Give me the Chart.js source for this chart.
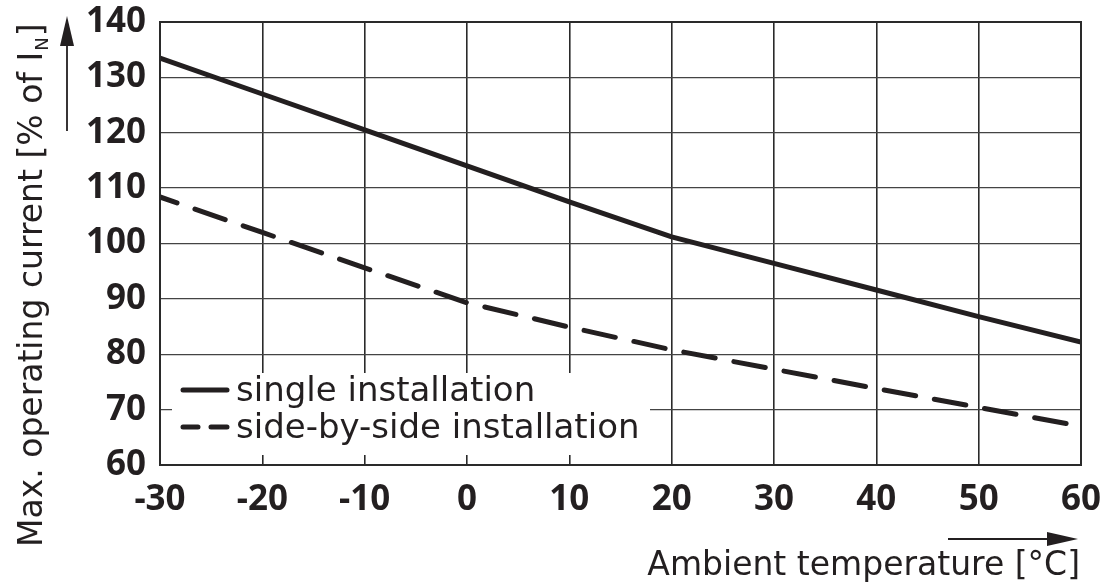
<!DOCTYPE html>
<html>
<head>
<meta charset="utf-8">
<script src="https://cdn.jsdelivr.net/npm/chart.js@4.4.1/dist/chart.umd.min.js"></script>
<style>
  html, body { margin: 0; padding: 0; background: #fff; }
  #wrap { width: 1102px; height: 588px; position: relative; }
</style>
</head>
<body>
<div id="wrap"><canvas id="c" width="1102" height="588"></canvas></div>
<script>
const temperatures = [-30, -20, -10, 0, 10, 20, 30, 40, 50, 60];
const singleInstallation = [133.5, 127, 120.5, 114, 107.5, 101.2, 96.4, 91.6, 86.8, 82.2];
const sideBySideInstallation = [108.4, 102, 95.6, 89.3, 84.9, 80.8, 77.3, 73.8, 70.4, 67];
const xTicks = [-30, -20, -10, 0, 10, 20, 30, 40, 50, 60];
const yTicks = [60, 70, 80, 90, 100, 110, 120, 130, 140];
const seriesLabels = ['single installation', 'side-by-side installation'];
const xTitle = 'Ambient temperature [°C]';
const yTitleMain = 'Max. operating current [% of I';
const yTitleSub = 'N';
const yTitleEnd = ']';

const INK = '#231f20';
const FONT = '"DejaVu Sans", "Noto Sans", sans-serif';
const TICKFONT = '"Noto Sans", "DejaVu Sans", sans-serif';

const decorPlugin = {
  id: 'decor',
  beforeDatasetsDraw(chart) {
    const ctx = chart.ctx;
    const a = chart.chartArea;
    ctx.save();
    ctx.fillStyle = '#fff';
    ctx.fillRect(a.left + 12, 373, 478, 82);
    ctx.restore();
  },
  afterDraw(chart) {
    const ctx = chart.ctx;
    ctx.save();
    ctx.fillStyle = INK;
    ctx.strokeStyle = INK;
    // legend
    ctx.lineWidth = 5;
    ctx.lineCap = 'round';
    ctx.beginPath();
    ctx.moveTo(183, 390); ctx.lineTo(227, 390);
    ctx.stroke();
    ctx.beginPath();
    ctx.moveTo(183, 427); ctx.lineTo(198, 427);
    ctx.moveTo(211, 427); ctx.lineTo(227, 427);
    ctx.stroke();
    ctx.font = '34px ' + FONT;
    ctx.textAlign = 'left';
    ctx.textBaseline = 'alphabetic';
    ctx.fillText(seriesLabels[0], 236, 401);
    ctx.fillText(seriesLabels[1], 236, 438);

    // x title
    ctx.font = '33px ' + FONT;
    ctx.textAlign = 'right';
    ctx.fillText(xTitle, 1080, 575);
    // x arrow
    ctx.lineWidth = 1.8;
    ctx.lineCap = 'butt';
    ctx.beginPath();
    ctx.moveTo(948, 539); ctx.lineTo(1050, 539);
    ctx.stroke();
    ctx.beginPath();
    ctx.moveTo(1078, 539); ctx.lineTo(1047, 532); ctx.lineTo(1047, 546); ctx.closePath();
    ctx.fill();

    // y title (rotated)
    ctx.save();
    ctx.translate(42, 547);
    ctx.rotate(-Math.PI / 2);
    ctx.textAlign = 'left';
    ctx.font = '33px ' + FONT;
    ctx.fillText(yTitleMain, 0, 0);
    const w = ctx.measureText(yTitleMain).width;
    ctx.font = '18px ' + FONT;
    ctx.fillText(yTitleSub, w + 1, 6);
    const w2 = ctx.measureText(yTitleSub).width;
    ctx.font = '33px ' + FONT;
    ctx.fillText(yTitleEnd, w + w2 + 2, 0);
    ctx.restore();
    // y arrow
    ctx.lineWidth = 1.8;
    ctx.beginPath();
    ctx.moveTo(67, 131); ctx.lineTo(67, 40);
    ctx.stroke();
    ctx.beginPath();
    ctx.moveTo(67, 16); ctx.lineTo(60, 46); ctx.lineTo(74, 46); ctx.closePath();
    ctx.fill();
    ctx.restore();
  }
};

new Chart(document.getElementById('c'), {
  type: 'line',
  data: {
    datasets: [
      {
        label: seriesLabels[0],
        data: temperatures.map((t, i) => ({ x: t, y: singleInstallation[i] })),
        borderColor: INK,
        borderWidth: 5,
        pointRadius: 0,
        tension: 0,
        fill: false
      },
      {
        label: seriesLabels[1],
        data: temperatures.map((t, i) => ({ x: t, y: sideBySideInstallation[i] })),
        borderColor: INK,
        borderWidth: 5,
        borderDash: [32, 19],
        borderDashOffset: 14,
        borderCapStyle: 'round',
        pointRadius: 0,
        tension: 0,
        fill: false
      }
    ]
  },
  options: {
    responsive: false,
    animation: false,
    devicePixelRatio: 1,
    layout: { padding: { left: 0, top: 22, right: 21, bottom: 0 } },
    plugins: { legend: { display: false }, tooltip: { enabled: false } },
    scales: {
      x: {
        type: 'linear',
        min: -30, max: 60,
        afterBuildTicks(scale) { scale.ticks = xTicks.map(v => ({ value: v })); },
        afterFit(scale) { scale.height = 123; scale.paddingLeft = 0; scale.paddingRight = 0; },
        grid: { color: '#2a2a2a', lineWidth: 1.6, drawTicks: false },
        border: { color: '#2a2a2a', width: 2 },
        ticks: {
          color: INK,
          padding: 14,
          maxRotation: 0,
          font: { family: TICKFONT, size: 35, weight: 'bold' },
          callback: v => String(v)
        }
      },
      y: {
        type: 'linear',
        min: 60, max: 140,
        afterBuildTicks(scale) { scale.ticks = yTicks.map(v => ({ value: v })); },
        afterFit(scale) { scale.width = 160; scale.paddingTop = 0; scale.paddingBottom = 0; },
        grid: { color: '#444', lineWidth: 1.3, drawTicks: false },
        border: { color: '#2a2a2a', width: 2 },
        ticks: {
          color: INK,
          padding: 14,
          font: { family: TICKFONT, size: 35, weight: 'bold' },
          callback: v => String(v)
        }
      }
    }
  },
  plugins: [decorPlugin, {
    id: 'frame',
    afterDatasetsDraw(chart) {
      const ctx = chart.ctx, a = chart.chartArea;
      ctx.save();
      ctx.strokeStyle = '#2a2a2a';
      ctx.lineWidth = 2;
      ctx.strokeRect(a.left, a.top, a.right - a.left, a.bottom - a.top);
      ctx.restore();
    }
  }]
});
</script>
</body>
</html>
